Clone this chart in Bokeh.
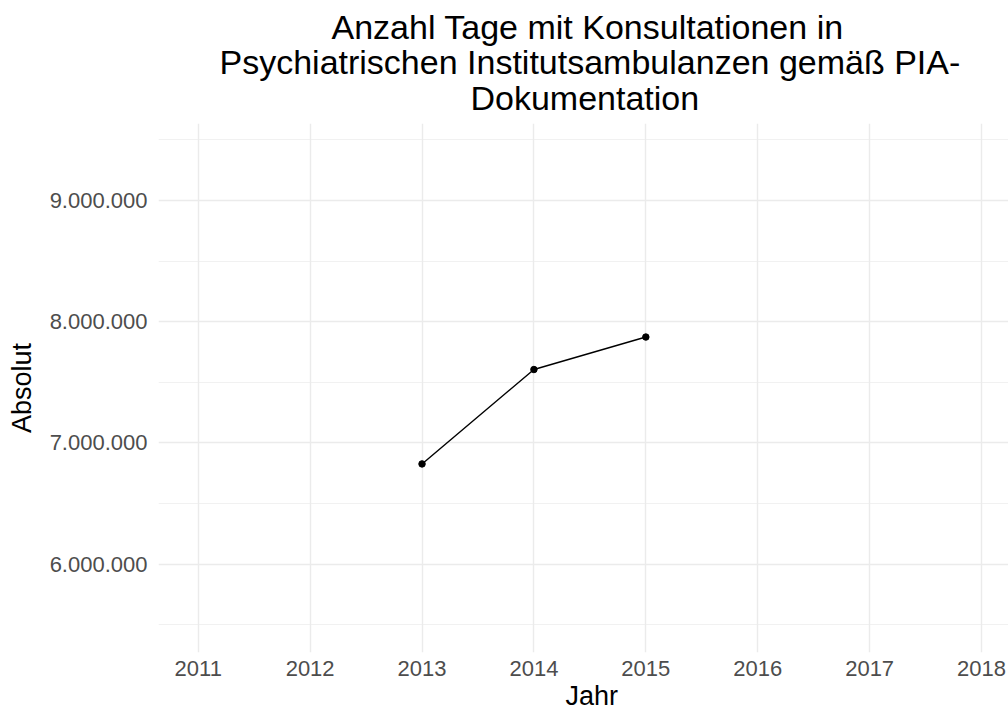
from bokeh.plotting import figure
from bokeh.models import Range1d, FixedTicker, CustomJSTickFormatter, Title
from bokeh.embed import file_html
from bokeh.resources import INLINE

years = [2013, 2014, 2015]
values = [6826000, 7605000, 7873000]
x_ticks = [2011, 2012, 2013, 2014, 2015, 2016, 2017, 2018]
y_ticks = [6000000, 7000000, 8000000, 9000000]
y_minor = [5500000, 6500000, 7500000, 8500000, 9500000]
title_lines = ["Anzahl Tage mit Konsultationen in",
               "Psychiatrischen Institutsambulanzen gemäß PIA-",
               "Dokumentation"]
x_label = "Jahr"
y_label = "Absolut"

FONT = "Liberation Sans"

p = figure(width=1008, height=715, output_backend="svg", toolbar_location=None,
           x_range=Range1d(2010.645, 2018.241), y_range=Range1d(5270000, 9635000),
           min_border_left=158, min_border_right=0, min_border_top=123, min_border_bottom=63)
p.outline_line_color = None
p.background_fill_color = "white"
p.border_fill_color = "white"

# title lines, stacked above the frame (first added = closest to the frame)
title_offsets = [173, 61, 312]      # left offsets that center each line at x~589
title_standoffs = [9, -20, 13]
for t, off, so in reversed(list(zip(title_lines, title_offsets, title_standoffs))):
    p.add_layout(Title(text=t, align="left", offset=off, standoff=so,
                       text_font=FONT, text_font_size="34px",
                       text_font_style="normal", text_color="black"), "above")

p.line(years, values, line_color="black", line_width=1.4)
p.scatter(years, values, size=6.5, fill_color="black", line_color="black")

p.xaxis.ticker = FixedTicker(ticks=x_ticks)
p.yaxis.ticker = FixedTicker(ticks=y_ticks, minor_ticks=y_minor)
p.yaxis.formatter = CustomJSTickFormatter(code="""
return Math.round(tick).toString().replace(/\\B(?=(\\d{3})+(?!\\d))/g, '.');
""")

for ax in (p.xaxis, p.yaxis):
    ax.axis_line_color = None
    ax.major_tick_line_color = None
    ax.minor_tick_line_color = None
    ax.major_tick_out = 0
    ax.major_tick_in = 0
    ax.minor_tick_out = 0
    ax.minor_tick_in = 0
    ax.major_label_text_font = FONT
    ax.major_label_text_font_size = "22px"
    ax.major_label_text_color = "#4d4d4d"
    ax.axis_label_text_font = FONT
    ax.axis_label_text_font_size = "27px"
    ax.axis_label_text_font_style = "normal"
    ax.axis_label_text_color = "black"

p.yaxis.axis_label = y_label
p.yaxis.major_label_standoff = 11
p.yaxis.axis_label_standoff = 10
p.xaxis.major_label_standoff = 8

# x axis title as a title below the axis
p.add_layout(Title(text=x_label, align="left", offset=407, standoff=0,
                   text_font=FONT, text_font_size="27px",
                   text_font_style="normal", text_color="black"), "below")

p.xgrid.grid_line_color = "#ebebeb"
p.xgrid.grid_line_width = 1.4
p.ygrid.grid_line_color = "#ebebeb"
p.ygrid.grid_line_width = 1.4
p.ygrid.minor_grid_line_color = "#ebebeb"
p.ygrid.minor_grid_line_width = 0.7

open("out.html", "w").write(file_html(p, INLINE))
